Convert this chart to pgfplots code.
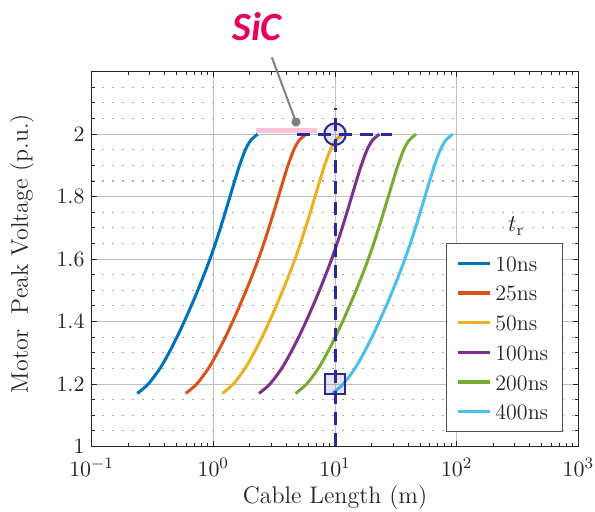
\documentclass[border=0pt]{standalone}
\usepackage{fontspec}
\usepackage{pgfplots}
\pgfplotsset{compat=1.18}
\newfontfamily\sicfont{Carlito}
\definecolor{c1}{rgb}{0,0.447,0.741}
\definecolor{c2}{rgb}{0.85,0.325,0.098}
\definecolor{c3}{rgb}{0.929,0.694,0.125}
\definecolor{c4}{rgb}{0.494,0.184,0.556}
\definecolor{c5}{rgb}{0.466,0.674,0.188}
\definecolor{c6}{rgb}{0.301,0.745,0.933}
\definecolor{navy}{RGB}{42,42,150}
\definecolor{axgray}{RGB}{38,38,38}
\definecolor{sicred}{RGB}{232,0,90}
\definecolor{sicpink}{RGB}{250,195,215}
\begin{document}
\begin{tikzpicture}
\begin{axis}[
  at={(0,0)}, anchor=south west,
  scale only axis, width=243.4pt, height=187.4pt,
  xmode=log, xmin=0.1, xmax=1000, ymin=1, ymax=2.2,
  xtick={0.1,1,10,100,1000},
  ytick={1,1.2,1.4,1.6,1.8,2},
  minor ytick={1.05,1.1,1.15,1.25,1.3,1.35,1.45,1.5,1.55,1.65,1.7,1.75,1.85,1.9,1.95,2.05,2.1,2.15},
  xmajorgrids, ymajorgrids, yminorgrids,
  major grid style={line width=0.5pt, color=black!25},
  minor grid style={line width=0.55pt, color=black!32, dash pattern=on 1pt off 4pt},
  axis line style={axgray, line width=0.5pt},
  tick style={axgray, line width=0.5pt},
  major tick length=2.8pt, minor tick length=1.6pt,
  tick label style={font=\fontsize{11}{13}\selectfont, color=axgray},
  xticklabel style={yshift=-2.5pt},
  label style={font=\fontsize{12}{14}\selectfont, color=axgray},
  xlabel={Cable Length (m)},
  ylabel={Motor\ \ Peak Voltage (p.u.)},
  xlabel style={at={(axis description cs:0.5,-0.1374)}, anchor=center},
  ylabel style={at={(axis description cs:-0.143,0.515)}, anchor=center},
  legend cell align=left,
  legend image code/.code={\draw[#1, line width=1.6pt] (0pt,0pt) -- (16pt,0pt);},
  legend style={at={(0.9678,0.0379)}, anchor=south east, draw=axgray!80, line width=0.5pt,
    font=\fontsize{11}{13}\selectfont, text=axgray, inner xsep=5pt, inner ysep=4pt,
    nodes={inner sep=2pt, text height=8pt, text depth=0pt}, row sep=2.85pt},
  clip=false,
]
\addplot[c1, line width=1.5pt, smooth] coordinates {
 (0.2374,1.17) (0.2923,1.2) (0.3648,1.25) (0.4320,1.3) (0.5027,1.35) (0.5774,1.4)
 (0.6581,1.45) (0.7457,1.5) (0.8396,1.55) (0.9388,1.6) (1.0403,1.65) (1.1452,1.7)
 (1.2548,1.75) (1.3711,1.8) (1.4983,1.85) (1.6439,1.9) (1.8345,1.95) (2.0305,1.98) (2.3152,2.0)};
\addplot[c2, line width=1.5pt, smooth] coordinates {
 (0.5935,1.17) (0.7308,1.2) (0.912,1.25) (1.080,1.3) (1.2568,1.35) (1.4435,1.4)
 (1.6453,1.45) (1.8643,1.5) (2.099,1.55) (2.347,1.6) (2.6008,1.65) (2.863,1.7)
 (3.137,1.75) (3.4278,1.8) (3.7458,1.85) (4.1098,1.9) (4.5863,1.95) (5.0763,1.98) (5.788,2.0)};
\addplot[c3, line width=1.5pt, smooth] coordinates {
 (1.187,1.17) (1.4615,1.2) (1.824,1.25) (2.160,1.3) (2.5135,1.35) (2.887,1.4)
 (3.2905,1.45) (3.7285,1.5) (4.198,1.55) (4.694,1.6) (5.2015,1.65) (5.726,1.7)
 (6.274,1.75) (6.8555,1.8) (7.4915,1.85) (8.2195,1.9) (9.1725,1.95) (10.1525,1.98) (11.576,2.0)};
\addplot[c4, line width=1.5pt, smooth] coordinates {
 (2.374,1.17) (2.923,1.2) (3.648,1.25) (4.320,1.3) (5.027,1.35) (5.774,1.4)
 (6.581,1.45) (7.457,1.5) (8.396,1.55) (9.388,1.6) (10.403,1.65) (11.452,1.7)
 (12.548,1.75) (13.711,1.8) (14.983,1.85) (16.439,1.9) (18.345,1.95) (20.305,1.98) (23.152,2.0)};
\addplot[c5, line width=1.5pt, smooth] coordinates {
 (4.748,1.17) (5.846,1.2) (7.296,1.25) (8.640,1.3) (10.054,1.35) (11.548,1.4)
 (13.162,1.45) (14.914,1.5) (16.792,1.55) (18.776,1.6) (20.806,1.65) (22.904,1.7)
 (25.096,1.75) (27.422,1.8) (29.966,1.85) (32.878,1.9) (36.690,1.95) (40.610,1.98) (46.304,2.0)};
\addplot[c6, line width=1.5pt, smooth] coordinates {
 (9.496,1.17) (11.692,1.2) (14.592,1.25) (17.280,1.3) (20.108,1.35) (23.096,1.4)
 (26.324,1.45) (29.828,1.5) (33.584,1.55) (37.552,1.6) (41.612,1.65) (45.808,1.7)
 (50.192,1.75) (54.844,1.8) (59.932,1.85) (65.756,1.9) (73.380,1.95) (81.220,1.98) (92.608,2.0)};
\legend{10ns,25ns,50ns,100ns,200ns,400ns}
% SiC range bar
\addplot[sicpink, line width=2.3pt, forget plot] coordinates {(2.24,2.012) (7.16,2.012)};
% dashed guide lines
\addplot[navy, line width=1.5pt, dash pattern=on 6.5pt off 4pt, forget plot] coordinates {(10,1) (10,2.083)};
\addplot[navy, line width=1.5pt, dash pattern=on 6.5pt off 4pt, forget plot] coordinates {(4.88,2) (29.3,2)};
% markers
\addplot[only marks, mark=*, mark size=5.4pt, mark options={draw=navy, fill=navy, fill opacity=0.12, line width=1pt}, forget plot] coordinates {(10,2)};
\addplot[only marks, mark=square*, mark size=4.8pt, mark options={draw=navy, fill=navy, fill opacity=0.12, line width=1pt}, forget plot] coordinates {(10,1.2)};
% annotation
\draw[black!50, line width=1pt] (axis cs:3.03,2.2456) -- (axis cs:4.78,2.039);
\fill[black!50] (axis cs:4.78,2.039) circle (2.3pt);
\node[font=\sicfont\fontsize{20}{24}\selectfont\bfseries\itshape, text=sicred] at (axis cs:2.29,2.3445) {SiC};
\node[font=\fontsize{12}{14}\selectfont, text=axgray] at (rel axis cs:0.872,0.588) {$t_{\mathrm{r}}$};
\end{axis}
\pgfresetboundingbox
\path[use as bounding box] (-45.8pt,-32.75pt) rectangle (251.7pt,223.25pt);
\end{tikzpicture}
\end{document}
